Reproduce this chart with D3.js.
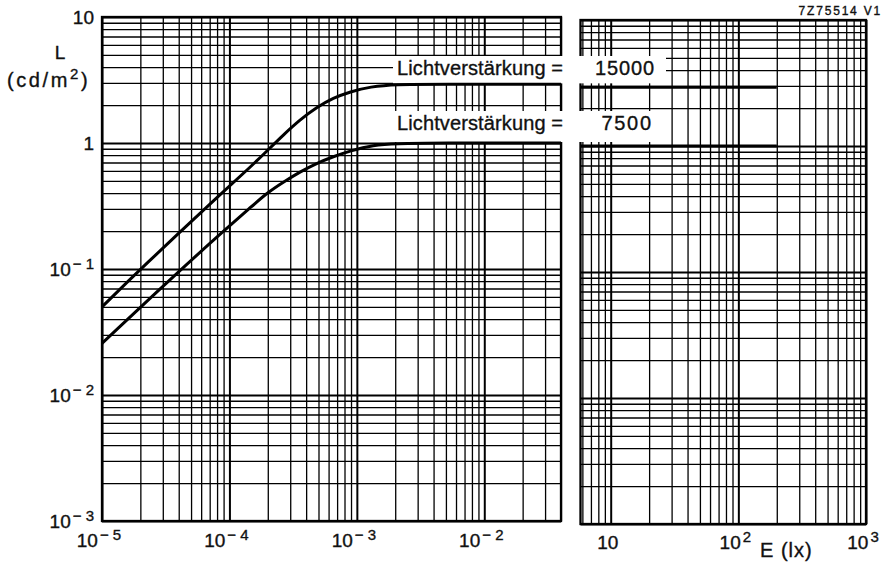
<!DOCTYPE html>
<html>
<head>
<meta charset="utf-8">
<script src="https://cdn.jsdelivr.net/npm/d3@7"></script>
<style>
  body { margin: 0; background: #fff; }
  svg text { font-family: "Liberation Sans", Arial, sans-serif; fill: #111; stroke: #111; stroke-width: 0.35px; }
</style>
</head>
<body>
<div id="chart"></div>
<script>
// curves, E in lx and L in cd/m2
var E_15000 = [1e-5, 2e-5, 9.5e-5, 1.45e-4, 1.96e-4, 2.65e-4, 3.58e-4, 4.84e-4, 6.54e-4, 8.84e-4, 1.27e-3, 2.06e-3, 4e-3, 4e-2];
var L_15000 = [0.05, 0.1, 0.435, 0.64, 0.86, 1.16, 1.53, 1.92, 2.28, 2.55, 2.8, 2.92, 2.92, 2.92];
var E_7500 = [1e-5, 4.1e-5, 9.5e-5, 1.45e-4, 1.96e-4, 2.65e-4, 3.58e-4, 4.84e-4, 6.54e-4, 8.84e-4, 1.34e-3, 2.06e-3, 4e-3, 4e-2];
var L_7500 = [0.0257, 0.098, 0.21, 0.305, 0.40, 0.49, 0.59, 0.69, 0.78, 0.864, 0.964, 0.99, 1.0, 1.0];

// second part of the broken E axis, both curves stay flat up to 200 lx
var E_right = [5.8, 200];
var L_15000_right = [2.92, 2.92];
var L_7500_right = [1.0, 1.0];

// tick labels
var xTicksLeft = [1e-5, 1e-4, 1e-3, 1e-2],
  xTicksLeftExp = ["\u2212 5", "\u2212 4", "\u2212 3", "\u2212 2"],
  xTicksRight = [10, 100, 1000],
  xTicksRightExp = ["", "2", "3"],
  yTicks = [1e-3, 1e-2, 1e-1, 1, 10],
  yTicksBase = ["10", "10", "10", "1", "10"],
  yTicksExp = ["\u2212 3", "\u2212 2", "\u2212 1", "", ""];

var labels = ["Lichtverst\u00e4rkung =", "Lichtverst\u00e4rkung ="],
  gains = ["15000", "7500"];

var svg_dx = 888,
  svg_dy = 566;

var top_y = 17,
  bottom_y = 521,
  // the right sheet sits a little lower on the scan
  shift_r = 3;

// the two pieces of the E axis share the same decade length
var xL = d3.scaleLog().domain([1e-5, 4e-2]).range([102, 561]),
  xR = d3.scaleLog().domain([5.8, 1000]).range([580.5, 866]),
  y = d3.scaleLog().domain([1e-3, 10]).range([bottom_y, top_y]),
  yR = d3.scaleLog().domain([1e-3, 10]).range([bottom_y + shift_r, top_y + shift_r]);

var svg = d3.select("#chart")
  .append("svg")
  .attr("width", svg_dx)
  .attr("height", svg_dy);

function isDecade(v) {
  var l = Math.log10(v);
  return Math.abs(l - Math.round(l)) < 1e-6;
}

// grid for one panel, vertical lines from the x axis, horizontal from the y axis
function drawPanel(x, yy) {
  var r = x.range(),
    ry = yy.range();
  var g = svg.append("g").attr("class", "panel");

  var vg = g.append("g")
    .attr("transform", "translate(0," + ry[0] + ")")
    .call(d3.axisBottom(x)
      .tickValues(x.ticks().filter(v => v >= x.domain()[0] && v <= x.domain()[1]))
      .tickSize(-(ry[0] - ry[1]))
      .tickFormat(""));
  vg.select(".domain").remove();
  vg.selectAll(".tick line")
    .attr("stroke", "#000")
    .attr("stroke-width", d => isDecade(d) ? 2 : 1.3);

  var hg = g.append("g")
    .attr("transform", "translate(" + r[0] + ",0)")
    .call(d3.axisLeft(yy)
      .tickSize(-(r[1] - r[0]))
      .tickFormat(""));
  hg.select(".domain").remove();
  hg.selectAll(".tick line")
    .attr("stroke", "#000")
    .attr("stroke-width", d => isDecade(d) ? 2 : 1.3);

  g.append("rect")
    .attr("x", r[0])
    .attr("y", ry[1])
    .attr("width", r[1] - r[0])
    .attr("height", ry[0] - ry[1])
    .attr("fill", "none")
    .attr("stroke", "#000")
    .attr("stroke-width", 2.3);
}

drawPanel(xL, y);
drawPanel(xR, yR);

// curve labels, the white boxes behind them are sized after the text
var labelLayer = svg.append("g");
var boxLayer = labelLayer.append("g");
var textLayer = labelLayer.append("g");
var plateaus = [L_15000[L_15000.length - 1], L_7500[L_7500.length - 1]];
var baselines = [75, 130];

labels.forEach(function(t, i) {
  var a = textLayer.append("text")
    .attr("x", 397)
    .attr("y", baselines[i])
    .attr("font-size", 20)
    .attr("textLength", 166)
    .attr("lengthAdjust", "spacing")
    .text(t);
  var b = textLayer.append("text")
    .attr("x", i === 0 ? 595 : 601.5)
    .attr("y", baselines[i])
    .attr("font-size", 20)
    .attr("textLength", i === 0 ? 59 : 49.5)
    .attr("lengthAdjust", "spacing")
    .text(gains[i]);
  var ba = a.node().getBBox(),
    bb = b.node().getBBox();
  var x0 = ba.x - 4,
    x1 = bb.x + bb.width + 12,
    y0 = ba.y - 1,
    y1 = y(plateaus[i]) - 1;
  boxLayer.append("rect")
    .attr("x", x0)
    .attr("y", y0)
    .attr("width", x1 - x0)
    .attr("height", y1 - y0)
    .attr("fill", "#fff");
});

// the curves
var lineL = d3.line()
  .x(d => xL(d[0]))
  .y(d => y(d[1]))
  .curve(d3.curveBasis);
var lineR = d3.line()
  .x(d => xR(d[0]))
  .y(d => yR(d[1]));

var curves = svg.append("g")
  .attr("fill", "none")
  .attr("stroke", "#000")
  .attr("stroke-width", 3)
  .attr("stroke-linecap", "butt");

curves.append("path").datum(d3.zip(E_15000, L_15000)).attr("d", lineL);
curves.append("path").datum(d3.zip(E_7500, L_7500)).attr("d", lineL);
curves.append("path").datum(d3.zip(E_right, L_15000_right)).attr("d", lineR);
curves.append("path").datum(d3.zip(E_right, L_7500_right)).attr("d", lineR);

// tick labels with raised exponents
function powLabel(sel, base, exp) {
  sel.append("tspan").text(base);
  if (exp) {
    sel.append("tspan")
      .attr("dy", -7)
      .attr("dx", 2)
      .attr("font-size", 15)
      .text(exp);
  }
}

xTicksLeft.forEach(function(v, i) {
  var t = svg.append("text")
    .attr("x", xL(v) - 3)
    .attr("y", 547)
    .attr("font-size", 19)
    .attr("text-anchor", "middle");
  powLabel(t, "10", xTicksLeftExp[i]);
});

xTicksRight.forEach(function(v, i) {
  var t = svg.append("text")
    .attr("x", xR(v) - 3)
    .attr("y", 549)
    .attr("font-size", 19)
    .attr("text-anchor", "middle");
  powLabel(t, "10", xTicksRightExp[i]);
});

yTicks.forEach(function(v, i) {
  var t = svg.append("text")
    .attr("x", 94)
    .attr("y", y(v) + 6.5)
    .attr("font-size", 19)
    .attr("text-anchor", "end");
  powLabel(t, yTicksBase[i], yTicksExp[i]);
});

// axis titles
svg.append("text")
  .attr("x", 60)
  .attr("y", 59)
  .attr("font-size", 19)
  .attr("text-anchor", "middle")
  .text("L");

var unit = svg.append("text")
  .attr("x", 7)
  .attr("y", 87)
  .attr("font-size", 20)
  .attr("letter-spacing", 2.6);
unit.append("tspan").text("(cd/m");
unit.append("tspan").attr("dy", -8).attr("font-size", 15).text("2");
unit.append("tspan").attr("dy", 8).text(")");

svg.append("text")
  .attr("x", 760)
  .attr("y", 557)
  .attr("font-size", 20)
  .attr("letter-spacing", 1)
  .text("E (lx)");

svg.append("text")
  .attr("x", 882)
  .attr("y", 15)
  .attr("font-size", 12)
  .attr("letter-spacing", 1.8)
  .attr("text-anchor", "end")
  .text("7Z75514 V1");
</script>
</body>
</html>
